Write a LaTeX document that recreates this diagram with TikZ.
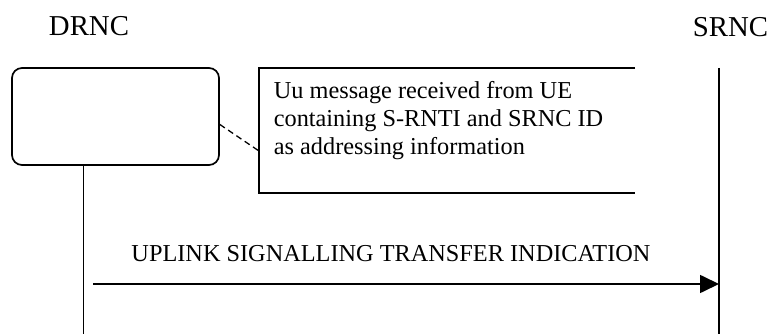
\documentclass[tikz,border=0pt]{standalone}
\usepackage{fontspec}
\setmainfont{Liberation Serif}
\usetikzlibrary{arrows.meta}

\begin{document}
\begin{tikzpicture}[x=1pt,y=-1pt,line width=1.7pt,>={Triangle[length=19pt,width=18pt]}]
  \tikzset{ent/.style={font=\fontsize{28.8}{34}\selectfont,inner sep=0pt,anchor=base},
           txt/.style={font=\fontsize{24.3}{27.7}\selectfont,inner sep=0pt},
           proc/.style={draw,rounded corners=10pt,minimum width=207pt,minimum height=97pt,inner sep=0pt}}
  \useasboundingbox (0,0) rectangle (771,334);
  \node[ent]  (drnc) at (89,36)    {DRNC};
  \node[ent]  (srnc) at (730.5,37) {SRNC};
  \node[proc] (box)  at (115.5,116.5) {};
  \coordinate (dtop) at (83.5,165);
  \coordinate (dbot) at (83.5,334);
  \coordinate (stop) at (719,68);
  \coordinate (sbot) at (719,334);
  \draw (dtop) -- (dbot);
  \draw (stop) -- (sbot);
  % note
  \draw (635,68) -- (259,68) -- (259,193) -- (635,193);
  \coordinate (notew) at (259,151);
  \node[txt,anchor=north west,align=left] (note) at (273,80.7) {Uu message received from UE\\containing S-RNTI and SRNC ID\\as addressing information};
  \draw[line width=1.3pt,dash pattern=on 6pt off 4pt] ([yshift=-8pt]box.east) -- (notew);
  % message
  \coordinate (from) at (93,284);
  \coordinate (to)   at (719,284);
  \draw[->] (from) -- (to);
  \node[txt,anchor=base] (lbl) at (391,261) {UPLINK SIGNALLING TRANSFER INDICATION};
\end{tikzpicture}
\end{document}
